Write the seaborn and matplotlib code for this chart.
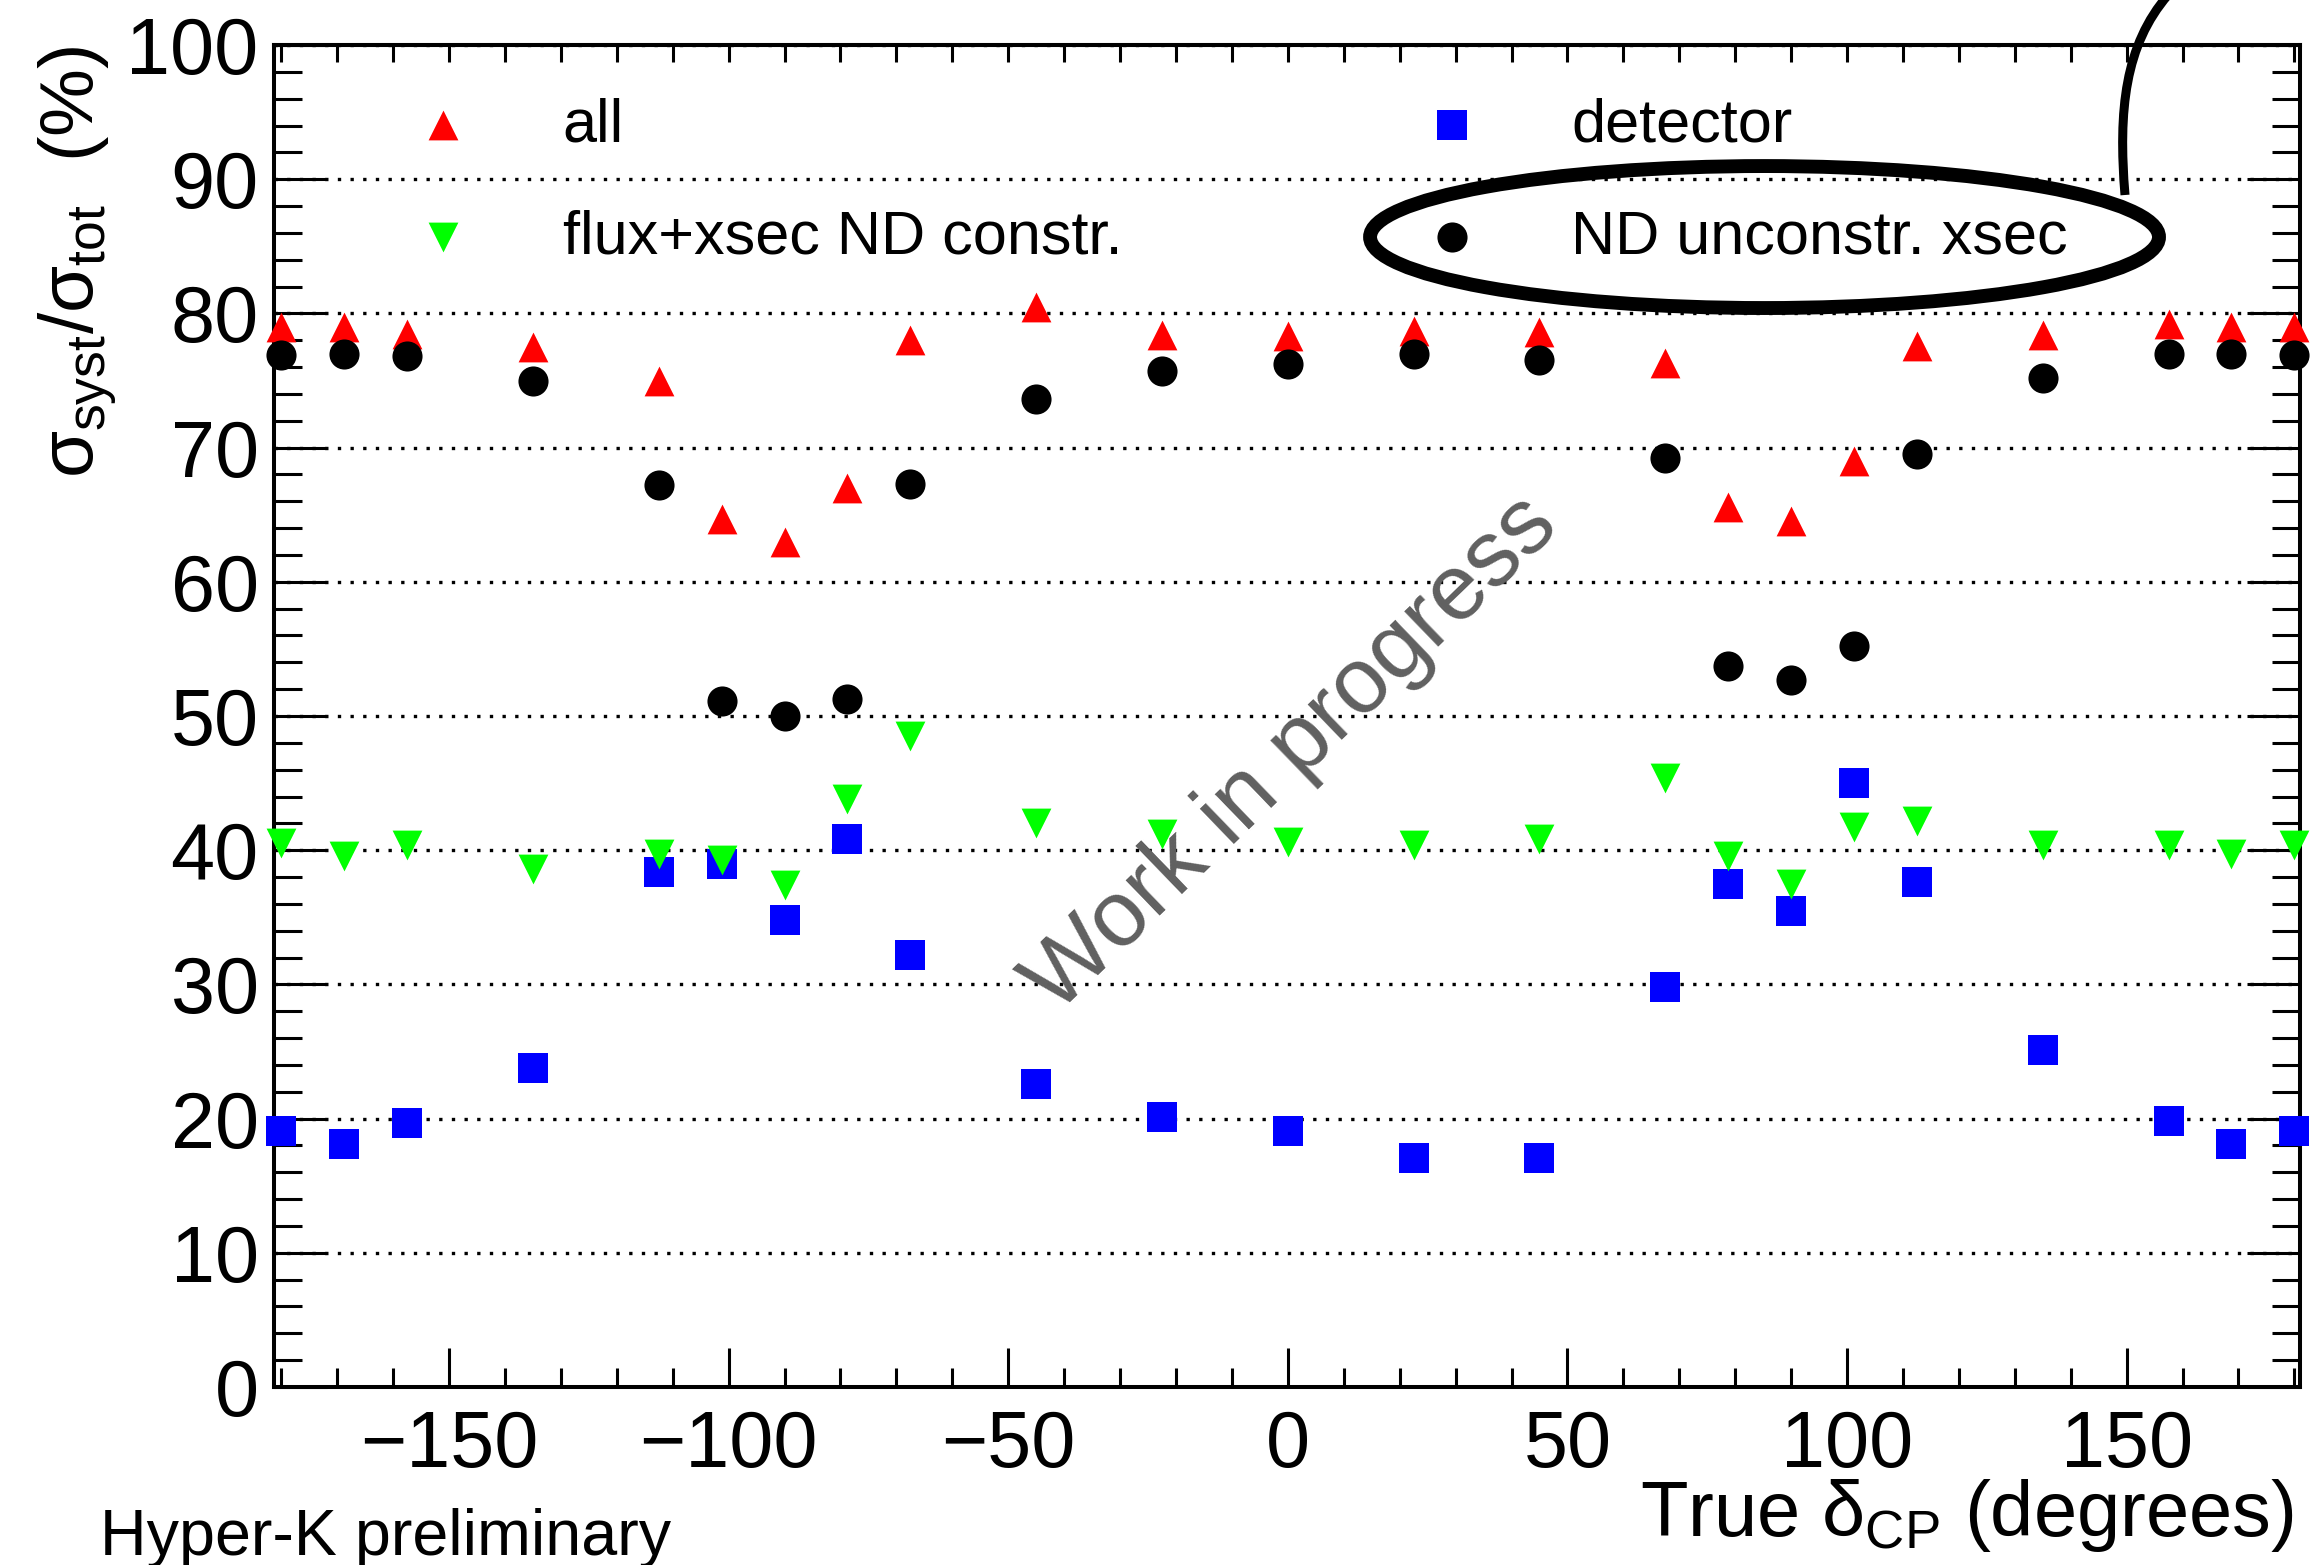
import matplotlib
matplotlib.use("Agg")
import matplotlib.pyplot as plt
import seaborn as sns
from matplotlib.ticker import MultipleLocator
from matplotlib.patches import Ellipse, PathPatch
from matplotlib.path import Path

# True delta_CP values (degrees) at which the systematic fraction was evaluated
delta_cp = [-180, -168.75, -157.5, -135, -112.5, -101.25, -90, -78.75, -67.5,
            -45, -22.5, 0, 22.5, 45, 67.5, 78.75, 90, 101.25, 112.5, 135,
            157.5, 168.75, 180]

# sigma_syst / sigma_tot (%) for each systematic configuration
all_syst = [79.0, 79.0, 78.5, 77.5, 75.0, 64.7, 63.0, 67.0, 78.0, 80.5, 78.4,
            78.3, 78.7, 78.6, 76.3, 65.6, 64.5, 69.0, 77.6, 78.4, 79.2, 79.0, 79.0]
flux_xsec_nd = [40.5, 39.6, 40.4, 38.6, 39.7, 39.3, 37.4, 43.8, 48.5, 42.0, 41.2,
                40.6, 40.4, 40.8, 45.4, 39.6, 37.5, 41.7, 42.2, 40.4, 40.4, 39.7, 40.4]
detector = [19.1, 18.1, 19.7, 23.8, 38.4, 39.0, 34.8, 40.8, 32.2, 22.6, 20.1,
            19.1, 17.1, 17.1, 29.8, 37.5, 35.5, 45.0, 37.6, 25.1, 19.8, 18.1, 19.1]
nd_unconstr_xsec = [76.9, 77.0, 76.8, 75.0, 67.2, 51.1, 50.0, 51.3, 67.3, 73.6, 75.7,
                    76.2, 77.0, 76.5, 69.2, 53.7, 52.7, 55.2, 69.5, 75.2, 77.0, 77.0, 76.9]

legend_order = ["all", "flux+xsec ND constr.", "detector", "ND unconstr. xsec"]

sns.set_style("white")
plt.rcParams["font.family"] = ["Liberation Sans", "DejaVu Sans"]
plt.rcParams["mathtext.fontset"] = "custom"
plt.rcParams["mathtext.rm"] = "Liberation Sans"
plt.rcParams["mathtext.it"] = "Liberation Sans"
plt.rcParams["mathtext.bf"] = "Liberation Sans:bold"
plt.rcParams["mathtext.sf"] = "Liberation Sans"
for key in ("text.color", "axes.labelcolor", "xtick.color", "ytick.color",
            "axes.edgecolor"):
    plt.rcParams[key] = "black"

W, H = 2311, 1565
fig = plt.figure(figsize=(W / 100, H / 100), dpi=100)
ax = fig.add_axes([274 / W, 1 - 1387 / H, 2026 / W, 1342 / H])

series = [
    ("detector", detector, "#0000ff", "s", 480),
    ("flux+xsec ND constr.", flux_xsec_nd, "#00ff00", "v", 460),
    ("all", all_syst, "#ff0000", "^", 460),
    ("ND unconstr. xsec", nd_unconstr_xsec, "#000000", "o", 470),
]
for label, vals, color, marker, size in series:
    sns.scatterplot(x=delta_cp, y=vals, color=color, marker=marker, s=size,
                    linewidth=0, ax=ax, label=label, zorder=3, clip_on=False)

handles = {c.get_label(): c for c in ax.collections}
if ax.get_legend() is not None:
    ax.get_legend().remove()

ax.set_xlim(-181.3, 181.0)
ax.set_ylim(0, 100)
ax.xaxis.set_major_locator(MultipleLocator(50))
ax.xaxis.set_minor_locator(MultipleLocator(10))
ax.yaxis.set_major_locator(MultipleLocator(10))
ax.yaxis.set_minor_locator(MultipleLocator(2))
ax.tick_params(axis="x", which="major", direction="in", length=28, width=2.2,
               labelsize=57, pad=16, top=False, bottom=True)
ax.tick_params(axis="x", which="minor", direction="in", length=13.7, width=2.2,
               top=False, bottom=True)
ax.tick_params(axis="y", which="major", direction="in", length=38, width=2.2,
               labelsize=57, pad=11, left=True, right=True)
ax.tick_params(axis="y", which="minor", direction="in", length=20, width=2.2,
               left=True, right=True)
for sp in ax.spines.values():
    sp.set_linewidth(2.9)
    sp.set_color("black")

top = ax.secondary_xaxis("top")
top.xaxis.set_major_locator(MultipleLocator(10))
top.tick_params(direction="in", length=12, width=2.2, labeltop=False)
top.spines["top"].set_linewidth(2.9)

ax.set_axisbelow(True)
ax.yaxis.grid(True, which="major", color="black", linewidth=2.4,
              linestyle=(0, (1, 2.8)))
ax.xaxis.grid(False)

ax.set_xlabel(r"True $\delta_{\mathrm{CP}}$ (degrees)", fontsize=56, loc="right")
ax.xaxis.set_label_coords(0.997, -0.067)
ax.set_ylabel(r"$\sigma_{\mathrm{syst}}/\sigma_{\mathrm{tot}}$  (%)", fontsize=55, loc="top")
ax.yaxis.set_label_coords(-0.077, 1.0)

ax.legend([handles[k] for k in legend_order], legend_order, ncol=2, loc="center",
          bbox_to_anchor=(0.4695, 0.898), frameon=False, fontsize=44,
          handlelength=2, handletextpad=0.95, columnspacing=4.4,
          labelspacing=0.9, borderpad=0, borderaxespad=0, scatterpoints=1)

ax.text(0.8, 47.1, "Work in progress", rotation=44, color="#606060", fontsize=67,
        ha="center", va="center", rotation_mode="anchor", zorder=4)

# hand-drawn highlight around the ND unconstrained entry
ax.add_patch(Ellipse((0.7357, 0.8569), 0.3894, 0.1058, transform=ax.transAxes,
                     fill=False, lw=10, ec="black", clip_on=False, zorder=6))
pointer = Path([(0.91952, 0.87540), (0.91649, 0.92971), (0.91952, 0.97125),
                (0.93812, 1.00319)],
               [Path.MOVETO, Path.CURVE4, Path.CURVE4, Path.CURVE4])
fig.add_artist(PathPatch(pointer, transform=fig.transFigure, fill=False,
                         lw=6.5, ec="black", zorder=6))

fig.text(100 / W, 10 / H, "Hyper-K preliminary", fontsize=46.5,
         va="baseline", ha="left")

fig.savefig("out.png", dpi=100)
